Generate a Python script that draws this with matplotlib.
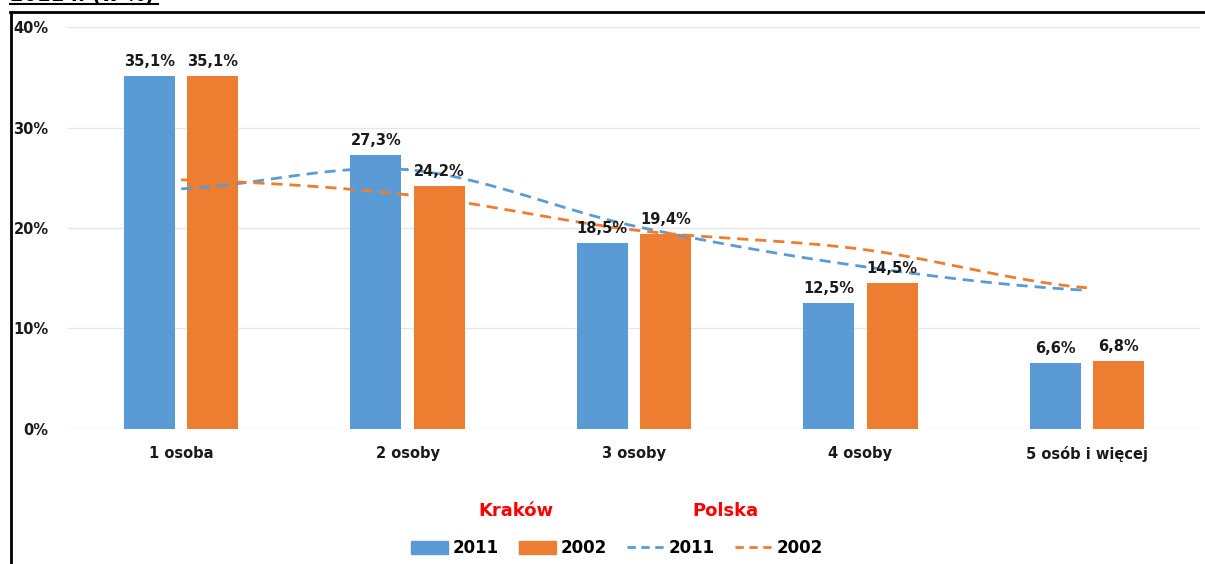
import numpy as np
import matplotlib
matplotlib.use("Agg")
import matplotlib.pyplot as plt
from matplotlib.patches import Patch
from matplotlib.lines import Line2D

# --- data ---
categories = ["1 osoba", "2 osoby", "3 osoby", "4 osoby", "5 osób i więcej"]
krakow_2011 = [35.1, 27.3, 18.5, 12.5, 6.6]
krakow_2002 = [35.1, 24.2, 19.4, 14.5, 6.8]
polska_2011 = [23.9, 25.8, 20.2, 16.2, 13.8]
polska_2002 = [24.8, 23.3, 19.8, 17.9, 14.05]
yticks = [0, 10, 20, 30, 40]

BLUE = "#5b9bd5"
ORANGE = "#ed7d31"


def smooth(x, y, n=30):
    # Catmull-Rom style smoothing like spreadsheet "smoothed line"
    x = np.asarray(x, float)
    y = np.asarray(y, float)
    px = np.concatenate([[2 * x[0] - x[1]], x, [2 * x[-1] - x[-2]]])
    py = np.concatenate([[y[0]], y, [y[-1]]])
    xs, ys = [], []
    for i in range(1, len(px) - 2):
        t = np.linspace(0, 1, n)
        f = lambda a0, a1, a2, a3: 0.5 * ((2 * a1) + (-a0 + a2) * t +
                                          (2 * a0 - 5 * a1 + 4 * a2 - a3) * t ** 2 +
                                          (-a0 + 3 * a1 - 3 * a2 + a3) * t ** 3)
        xs.append(f(px[i - 1], px[i], px[i + 1], px[i + 2]))
        ys.append(f(py[i - 1], py[i], py[i + 1], py[i + 2]))
    return np.concatenate(xs), np.concatenate(ys)


fig = plt.figure(figsize=(12.05, 5.64), dpi=100)
ax = fig.add_axes([0.0564, 0.2394, 0.9395, 0.7127])

x = np.arange(len(categories))
w = 0.225
off = 0.14
b1 = ax.bar(x - off, krakow_2011, w, color=BLUE, zorder=2)
b2 = ax.bar(x + off, krakow_2002, w, color=ORANGE, zorder=2)

for bars, vals in ((b1, krakow_2011), (b2, krakow_2002)):
    for r, v in zip(bars, vals):
        ax.text(r.get_x() + r.get_width() / 2, v + 0.7, f"{v:.1f}%".replace(".", ","),
                ha="center", va="bottom", fontsize=10.5, fontweight="bold", color="#1a1a1a", zorder=4)

sx, sy = smooth(x, polska_2011)
ax.plot(sx, sy, color=BLUE, lw=2, ls=(0, (4, 2.5)), zorder=3)
sx, sy = smooth(x, polska_2002)
ax.plot(sx, sy, color=ORANGE, lw=2, ls=(0, (4, 2.5)), zorder=3)

ax.set_xlim(-0.5, len(categories) - 0.5)
ax.set_ylim(0, 40)
ax.set_yticks(yticks)
ax.set_yticklabels([f"{t}%" for t in yticks], fontsize=10.5, fontweight="bold", color="#1a1a1a")
ax.set_xticks(x)
ax.set_xticklabels(categories, fontsize=10.5, fontweight="bold", color="#1a1a1a")
ax.tick_params(axis="both", length=0)
ax.tick_params(axis="y", pad=14)
ax.tick_params(axis="x", pad=12)
ax.grid(axis="y", color="#e6e6e6", lw=1, zorder=0)
for s in ax.spines.values():
    s.set_visible(False)

# section labels above legend
fig.text(516 / 1205, 1 - 511 / 564, "Kraków", color="#ff0000", fontsize=13, fontweight="bold",
         ha="center", va="center")
fig.text(725 / 1205, 1 - 511 / 564, "Polska", color="#ff0000", fontsize=13, fontweight="bold",
         ha="center", va="center")

handles = [Patch(color=BLUE), Patch(color=ORANGE),
           Line2D([], [], color=BLUE, lw=2, ls=(0, (3, 2))),
           Line2D([], [], color=ORANGE, lw=2, ls=(0, (3, 2)))]
labels = ["2011", "2002", "2011", "2002"]
fig.legend(handles, labels, ncol=4, loc="center", bbox_to_anchor=(617 / 1205, 1 - 548 / 564),
           frameon=False, prop={"size": 12, "weight": "bold"}, handlelength=2.2,
           handleheight=0.8, handletextpad=0.3, columnspacing=1.2)

# frame lines around chart region
fig.add_artist(Line2D([10.5 / 1205, 10.5 / 1205], [0, 1 - 12 / 564], color="black", lw=2,
                      transform=fig.transFigure))
fig.add_artist(Line2D([10 / 1205, 1], [1 - 12 / 564, 1 - 12 / 564], color="black", lw=2,
                      transform=fig.transFigure))

# heading above the chart (cut off by the top edge, as in the source)
fig.text(10 / 1205, 1 - 1 / 564, "2011 r. (w %)", fontsize=14, fontweight="bold",
         ha="left", va="baseline", color="black")
fig.add_artist(Line2D([10 / 1205, 158 / 1205], [1 - 4 / 564, 1 - 4 / 564], color="black", lw=1.5,
                      transform=fig.transFigure))

fig.savefig("out.png", dpi=100)
